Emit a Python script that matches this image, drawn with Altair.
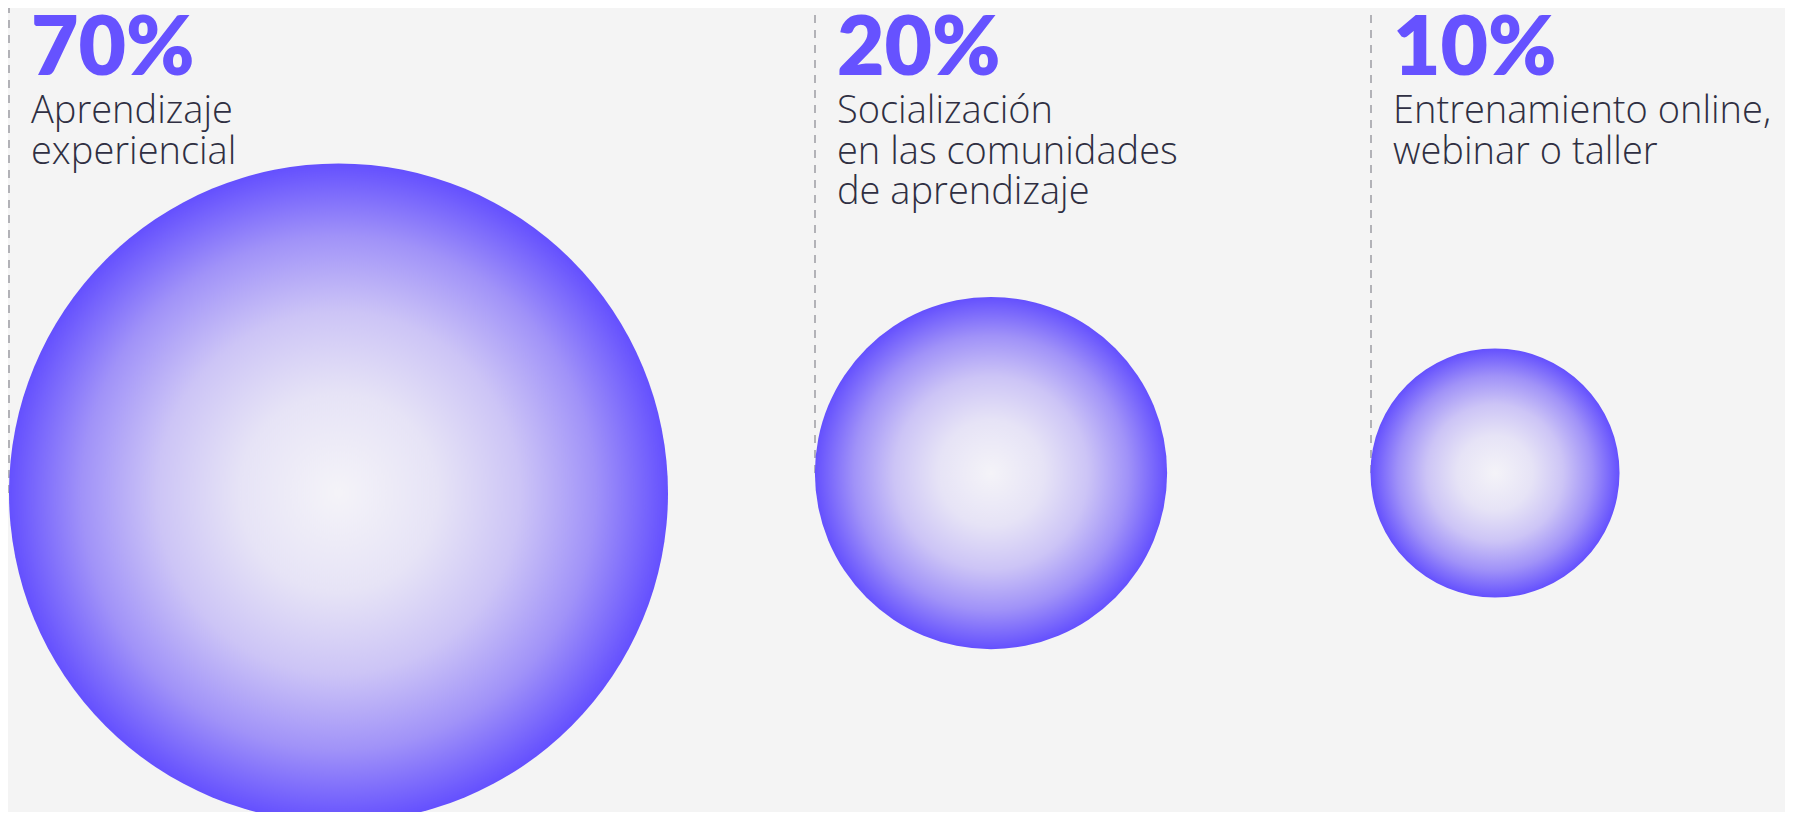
import altair as alt
import pandas as pd

order = [0, 1, 2]
pcts = [70, 20, 10]
pct_labels = ["70%", "20%", "10%"]
descs = [
    "Aprendizaje\nexperiencial",
    "Socialización\nen las comunidades\nde aprendizaje",
    "Entrenamiento online,\nwebinar o taller",
]

df = pd.DataFrame({"idx": order, "pct": pcts, "pct_label": pct_labels, "desc": descs})

W, H = 1777, 804
BG = "#f4f4f4"
PURPLE = "#6652ff"
INK = "#2f2f42"


def piecewise(rng):
    return alt.Scale(type="linear", domain=order, range=rng, zero=False, nice=False)


rule_x = piecewise([1, 807, 1363])
center_x = piecewise([330.5, 983, 1487])
text_x = piecewise([23, 829, 1385])
center_y = piecewise([485, 465, 465])

base = alt.Chart(df)

rules = base.mark_rule(color="#9c9ca2", strokeWidth=1.5, strokeDash=[8, 7]).encode(
    x=alt.X("idx:Q", scale=rule_x, axis=None),
    y=alt.Y("idx:Q", scale=center_y, axis=None),
    y2=alt.value(0),
)

grad = alt.Gradient(
    gradient="radial",
    stops=[
        alt.GradientStop(offset=0, color="#f4f3f8"),
        alt.GradientStop(offset=0.3, color="#e6e3f6"),
        alt.GradientStop(offset=0.55, color="#ccc4f6"),
        alt.GradientStop(offset=0.78, color="#a092f8"),
        alt.GradientStop(offset=1, color="#6450fe"),
    ],
    x1=0.5, y1=0.5, r1=0, x2=0.5, y2=0.5, r2=0.5,
)

circles = base.mark_circle(opacity=1, color=grad).encode(
    x=alt.X("idx:Q", scale=center_x, axis=None),
    y=alt.Y("idx:Q", scale=center_y, axis=None),
    size=alt.Size("pct:Q", scale=alt.Scale(domain=[0, 70], range=[0, 659 ** 2]), legend=None),
)

pct_text = base.mark_text(
    align="left", baseline="alphabetic", font="Lato", fontWeight=800,
    fontSize=82, color=PURPLE,
).encode(
    x=alt.X("idx:Q", scale=text_x, axis=None),
    y=alt.value(67),
    text="pct_label:N",
)

desc_text = base.mark_text(
    align="left", baseline="alphabetic", font="Open Sans", fontWeight=300,
    fontSize=38, lineHeight=40.5, color=INK, lineBreak="\n",
).encode(
    x=alt.X("idx:Q", scale=text_x, axis=None),
    y=alt.value(115),
    text="desc:N",
)

chart = (
    alt.layer(rules, circles, pct_text, desc_text)
    .resolve_scale(x="independent")
    .properties(width=W, height=H, padding=0, background=BG, autosize=alt.AutoSizeParams(type="none"))
    .configure_view(stroke=None)
)

chart.save("out.html", embed_options={"renderer": "svg", "actions": False})
